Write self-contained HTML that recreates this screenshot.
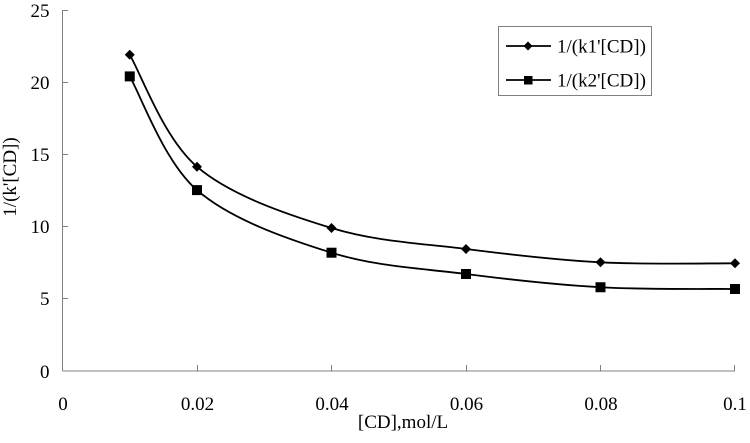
<!DOCTYPE html>
<html>
<head>
<meta charset="utf-8">
<style>
  html,body{margin:0;padding:0;background:#fff;}
  svg{display:block;}
  text{font-family:"Liberation Serif","Times New Roman",serif;font-size:19px;fill:#000;}
</style>
</head>
<body>
<svg width="750" height="443" viewBox="0 0 750 443" xmlns="http://www.w3.org/2000/svg">
  <rect width="750" height="443" fill="#fff"/>
  <!-- axes -->
  <g stroke="#808080" stroke-width="1" fill="none">
    <line x1="62.5" y1="10" x2="62.5" y2="371"/>
    <line x1="62.5" y1="371" x2="735" y2="371"/>
    <!-- y ticks -->
    <line x1="62.5" y1="10.5" x2="68" y2="10.5"/>
    <line x1="62.5" y1="82.5" x2="68" y2="82.5"/>
    <line x1="62.5" y1="154.5" x2="68" y2="154.5"/>
    <line x1="62.5" y1="226.5" x2="68" y2="226.5"/>
    <line x1="62.5" y1="298.5" x2="68" y2="298.5"/>
    <!-- x ticks -->
    <line x1="197.5" y1="365" x2="197.5" y2="371"/>
    <line x1="331.5" y1="365" x2="331.5" y2="371"/>
    <line x1="466.5" y1="365" x2="466.5" y2="371"/>
    <line x1="600.5" y1="365" x2="600.5" y2="371"/>
    <line x1="734.5" y1="365" x2="734.5" y2="371"/>
  </g>
  <!-- y tick labels -->
  <g text-anchor="end">
    <text x="49.5" y="17">25</text>
    <text x="49.5" y="89">20</text>
    <text x="49.5" y="161">15</text>
    <text x="49.5" y="233">10</text>
    <text x="49.5" y="305">5</text>
    <text x="49.5" y="378">0</text>
  </g>
  <!-- x tick labels -->
  <g text-anchor="middle">
    <text x="63" y="410">0</text>
    <text x="197.5" y="410">0.02</text>
    <text x="332" y="410">0.04</text>
    <text x="466.5" y="410">0.06</text>
    <text x="601" y="410">0.08</text>
    <text x="735" y="410">0.1</text>
  </g>
  <!-- axis titles -->
  <text x="403" y="428" text-anchor="middle">[CD],mol/L</text>
  <text transform="translate(16,177) rotate(-90)" text-anchor="middle">1/(k'[CD])</text>

  <!-- series 1 -->
  <path d="M129.75,54.8 C140.96,73.45 163.37,137.83 197,166.7 C230.63,195.57 286.67,214.28 331.5,228 C376.33,241.72 421.17,243.28 466,249 C510.83,254.72 555.67,259.92 600.5,262.3 C645.33,264.68 712.58,263.13 735,263.3" fill="none" stroke="#000" stroke-width="1.8"/>
  <g fill="#000">
    <polygon points="129.75,49.8 134.75,54.8 129.75,59.8 124.75,54.8"/>
    <polygon points="197,161.7 202,166.7 197,171.7 192,166.7"/>
    <polygon points="331.5,223 336.5,228 331.5,233 326.5,228"/>
    <polygon points="466,244 471,249 466,254 461,249"/>
    <polygon points="600.5,257.3 605.5,262.3 600.5,267.3 595.5,262.3"/>
    <polygon points="735,258.3 740,263.3 735,268.3 730,263.3"/>
  </g>
  <!-- series 2 -->
  <path d="M129.75,76.4 C140.96,95.35 163.37,160.72 197,190.1 C230.63,219.48 286.67,238.72 331.5,252.7 C376.33,266.68 421.17,268.24 466,274 C510.83,279.76 555.67,284.75 600.5,287.25 C645.33,289.75 712.58,288.71 735,289" fill="none" stroke="#000" stroke-width="1.8"/>
  <g fill="#000">
    <rect x="124.75" y="71.4" width="10" height="10"/>
    <rect x="192" y="185.1" width="10" height="10"/>
    <rect x="326.5" y="247.7" width="10" height="10"/>
    <rect x="461" y="269" width="10" height="10"/>
    <rect x="595.5" y="282.25" width="10" height="10"/>
    <rect x="730" y="284" width="10" height="10"/>
  </g>

  <!-- legend -->
  <rect x="498.5" y="26.5" width="153" height="69" fill="#fff" stroke="#808080" stroke-width="1"/>
  <line x1="506" y1="46" x2="551" y2="46" stroke="#000" stroke-width="1.8"/>
  <polygon points="528,41.5 532.5,46 528,50.5 523.5,46" fill="#000"/>
  <text x="557" y="52.5">1/(k1'[CD])</text>
  <line x1="506" y1="80" x2="551" y2="80" stroke="#000" stroke-width="1.8"/>
  <rect x="524" y="76" width="8.5" height="8.5" fill="#000"/>
  <text x="557" y="86.5">1/(k2'[CD])</text>
</svg>
</body>
</html>
